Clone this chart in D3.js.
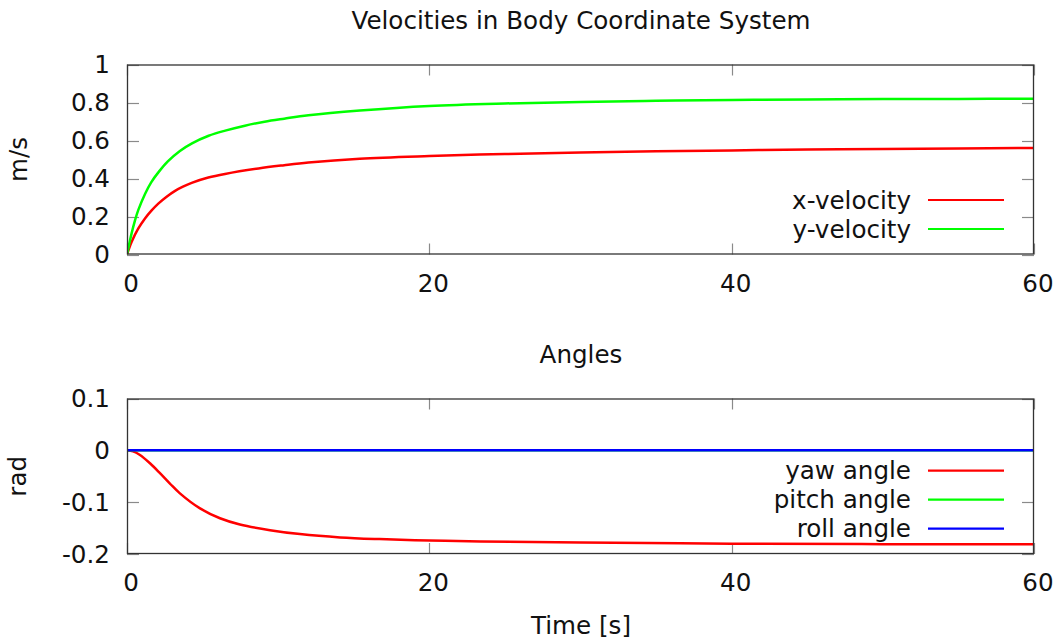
<!DOCTYPE html>
<html>
<head>
<meta charset="utf-8">
<script src="https://cdn.jsdelivr.net/npm/d3@7"></script>
<style>
  html, body { margin: 0; padding: 0; background: #fff; }
  svg { display: block; }
  text { font-family: "DejaVu Sans", sans-serif; font-size: 24.6px; fill: #111; }
</style>
</head>
<body>
<svg id="chart" width="1056" height="639"></svg>
<script>
// Simulation output: body velocities (m/s) and attitude angles (rad) over time (s)
const xVelTime  = [0, 0.31, 0.75, 1.19, 1.63, 2.07, 2.6, 3.18, 3.7, 4.28, 5.38, 6.48, 8.7, 10.4, 12, 15.4, 20, 25, 30, 35, 40, 45, 50, 55, 60];
const xVelocity = [0, 0.067, 0.137, 0.19, 0.232, 0.268, 0.303, 0.335, 0.357, 0.377, 0.405, 0.424, 0.453, 0.47, 0.484, 0.504, 0.518, 0.529, 0.537, 0.543, 0.548, 0.552, 0.555, 0.558, 0.561];
const yVelTime  = [0, 0.3, 0.53, 0.75, 1.2, 1.6, 2.1, 2.7, 3.5, 4.3, 5.4, 6.5, 7.8, 9.1, 10.4, 12, 15.4, 20, 25, 30, 35, 40, 45, 50, 55, 60];
const yVelocity = [0, 0.11, 0.18, 0.235, 0.32, 0.38, 0.435, 0.49, 0.545, 0.585, 0.625, 0.652, 0.678, 0.699, 0.715, 0.733, 0.758, 0.782, 0.795, 0.803, 0.809, 0.813, 0.816, 0.818, 0.819, 0.82];

const angTime    = [0, 0.4, 0.86, 1.52, 2.18, 2.84, 3.5, 4.83, 6.15, 7.47, 9.46, 11.44, 14.1, 16.7, 20, 23.4, 30, 40, 50, 60];
const yawAngle   = [0, -0.002, -0.009, -0.025, -0.044, -0.064, -0.083, -0.112, -0.131, -0.143, -0.154, -0.1616, -0.168, -0.1713, -0.174, -0.1757, -0.178, -0.18, -0.181, -0.181];
const pitchAngle = [0, 0, 0, 0, 0, 0, 0, 0, 0, 0, 0, 0, 0, 0, 0, 0, 0, 0, 0, 0];
const rollAngle  = [0, 0, 0, 0, 0, 0, 0, 0, 0, 0, 0, 0, 0, 0, 0, 0, 0, 0, 0, 0];

const timeTicks  = [0, 20, 40, 60];
const velTicks   = [0, 0.2, 0.4, 0.6, 0.8, 1];
const angleTicks = [-0.2, -0.1, 0, 0.1];

const svg = d3.select("#chart");
const left = 127, right = 1034;
const x = d3.scaleLinear().domain([0, 60]).range([left, right]);

// plain hyphen for negatives, trimmed decimals
const tickText = d => String(+d.toFixed(2));

function panel(cfg) {
  const y = d3.scaleLinear().domain(cfg.domain).range([cfg.bottom, cfg.top]);
  const g = svg.append("g");
  const clipId = cfg.id + "-clip";
  svg.append("clipPath").attr("id", clipId)
    .append("rect").attr("x", left).attr("y", cfg.top)
    .attr("width", right - left).attr("height", cfg.bottom - cfg.top);

  // inward tick marks on all four sides
  const tickG = g.append("g").attr("stroke", "#8a8a8a").attr("stroke-width", 1.2);
  cfg.yTicks.forEach(v => {
    const yy = Math.round(y(v)) + 0.5;
    tickG.append("line").attr("x1", left).attr("x2", left + 12).attr("y1", yy).attr("y2", yy);
    tickG.append("line").attr("x1", right - 12).attr("x2", right).attr("y1", yy).attr("y2", yy);
  });
  timeTicks.forEach(v => {
    const xx = Math.round(x(v)) + 0.5;
    tickG.append("line").attr("x1", xx).attr("x2", xx).attr("y1", cfg.bottom).attr("y2", cfg.bottom - 11);
    tickG.append("line").attr("x1", xx).attr("x2", xx).attr("y1", cfg.top).attr("y2", cfg.top + 11);
  });

  // tick labels
  g.append("g").selectAll("text").data(cfg.yTicks).join("text")
    .attr("x", 110).attr("y", d => y(d) + 8.9)
    .attr("text-anchor", "end")
    .text(tickText);
  g.append("g").selectAll("text").data(timeTicks).join("text")
    .attr("x", d => x(d) + 4).attr("y", cfg.bottom + 37)
    .attr("text-anchor", "middle")
    .text(d => d);

  // title and axis label
  g.append("text").attr("x", 581).attr("y", cfg.titleY)
    .attr("text-anchor", "middle").text(cfg.title);
  g.append("text")
    .attr("transform", `translate(${cfg.labelX},${(cfg.top + cfg.bottom) / 2}) rotate(-90)`)
    .attr("text-anchor", "middle").text(cfg.ylabel);

  // data curves
  const line = d3.line().x(d => x(d[0])).y(d => y(d[1])).curve(d3.curveCatmullRom.alpha(0.5));
  const curves = g.append("g").attr("clip-path", `url(#${clipId})`);
  cfg.series.forEach(s => {
    curves.append("path")
      .datum(s.t.map((t, i) => [t, s.v[i]]))
      .attr("d", line).attr("fill", "none")
      .attr("stroke", s.color).attr("stroke-width", 2.5)
      .attr("stroke-linejoin", "round");
  });

  // legend
  const leg = g.append("g");
  cfg.series.forEach((s, i) => {
    const ly = cfg.legendY + i * 29;
    leg.append("text").attr("x", 911).attr("y", ly + 8.5)
      .attr("text-anchor", "end").text(s.name);
    leg.append("line").attr("x1", 928).attr("x2", 1004)
      .attr("y1", ly).attr("y2", ly)
      .attr("stroke", s.color).attr("stroke-width", 2.2);
  });

  // border
  g.append("rect").attr("x", left + 0.5).attr("y", cfg.top + 0.5)
    .attr("width", right - left - 1).attr("height", cfg.bottom - cfg.top - 1)
    .attr("fill", "none").attr("stroke", "#333").attr("stroke-width", 1.3);
}

panel({
  id: "vel", domain: [0, 1], top: 64.5, bottom: 254.5,
  yTicks: velTicks, title: "Velocities in Body Coordinate System", titleY: 29.3,
  ylabel: "m/s", labelX: 27, legendY: 200,
  series: [
    { name: "x-velocity", t: xVelTime, v: xVelocity, color: "#ff0000" },
    { name: "y-velocity", t: yVelTime, v: yVelocity, color: "#00ff00" }
  ]
});

panel({
  id: "ang", domain: [-0.2, 0.1], top: 398.5, bottom: 554,
  yTicks: angleTicks, title: "Angles", titleY: 363.3,
  ylabel: "rad", labelX: 26, legendY: 470.7,
  series: [
    { name: "yaw angle", t: angTime, v: yawAngle, color: "#ff0000" },
    { name: "pitch angle", t: angTime, v: pitchAngle, color: "#00ff00" },
    { name: "roll angle", t: angTime, v: rollAngle, color: "#0000ff" }
  ]
});

svg.append("text").attr("x", 581).attr("y", 634)
  .attr("text-anchor", "middle").text("Time [s]");
</script>
</body>
</html>
